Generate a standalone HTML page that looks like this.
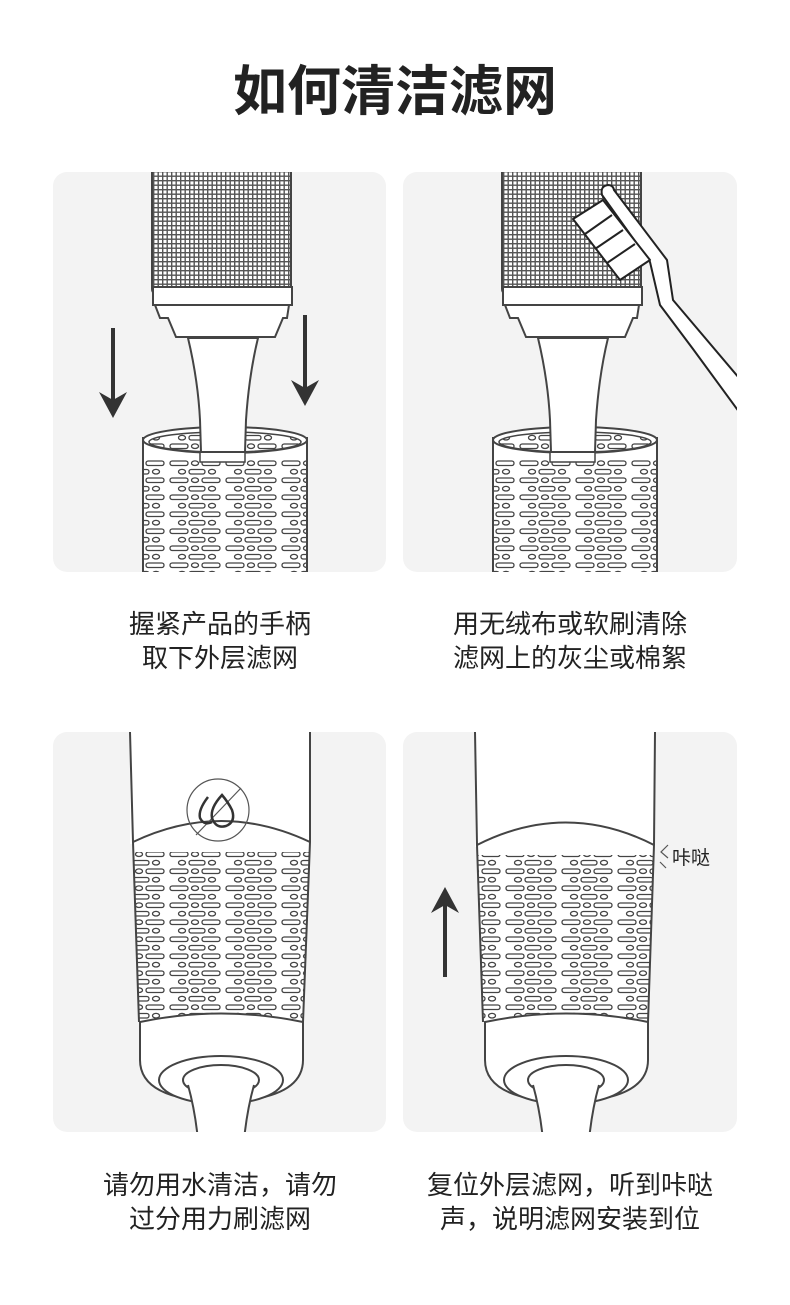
<!DOCTYPE html>
<html><head><meta charset="utf-8"><style>
body{margin:0;background:#fff;}
.t{font-family:"Liberation Sans","Noto Sans CJK SC",sans-serif;}
</style></head><body>
<svg width="790" height="1300" viewBox="0 0 790 1300" xmlns="http://www.w3.org/2000/svg">
<defs>
<pattern id="mesh" width="4.5" height="4.5" patternUnits="userSpaceOnUse">
<rect width="4.5" height="4.5" fill="#fff"/><rect x="0" y="0" width="4.5" height="1.4" fill="#555"/><rect x="0" y="0" width="1.4" height="4.5" fill="#555"/>
</pattern>
<pattern id="slots" width="56" height="17" patternUnits="userSpaceOnUse">
<rect width="56" height="17" fill="#fff"/>
<rect x="2" y="2" width="18" height="4.5" rx="2.2" fill="none" stroke="#444" stroke-width="1.3"/>
<ellipse cx="27" cy="4.2" rx="3.5" ry="2.3" fill="none" stroke="#444" stroke-width="1.3"/>
<rect x="34" y="2" width="18" height="4.5" rx="2.2" fill="none" stroke="#444" stroke-width="1.3"/>
<ellipse cx="14" cy="12.7" rx="3.5" ry="2.3" fill="none" stroke="#444" stroke-width="1.3"/>
<rect x="21" y="10.5" width="16" height="4.5" rx="2.2" fill="none" stroke="#444" stroke-width="1.3"/>
<ellipse cx="44" cy="12.7" rx="3.5" ry="2.3" fill="none" stroke="#444" stroke-width="1.3"/>
</pattern>
<clipPath id="c1"><rect x="53" y="172" width="333" height="400" rx="14"/></clipPath>
<clipPath id="c2"><rect x="403" y="172" width="334" height="400" rx="14"/></clipPath>
<clipPath id="c3"><rect x="53" y="732" width="333" height="400" rx="14"/></clipPath>
<clipPath id="c4"><rect x="403" y="732" width="334" height="400" rx="14"/></clipPath>
<g id="top">
<rect x="152" y="150" width="139" height="145" rx="6" fill="url(#mesh)" stroke="#444" stroke-width="2"/>
<path d="M153 287 L292 287 L292 305 L153 305 Z" fill="#fff" stroke="#444" stroke-width="2"/>
<path d="M155 305 L289 305 L287 318 L283 318 L275 337 L176 337 L168 318 L160 318 Z" fill="#fff" stroke="#444" stroke-width="2"/>
<path d="M188 338 Q198 380 200 420 L201 452 L245 452 L246 420 Q249 375 258 338 Z" fill="#fff" stroke="#444" stroke-width="2"/>
</g>
<g id="bot">
<rect x="143" y="437" width="164" height="150" fill="url(#slots)"/>
<rect x="143" y="437" width="164" height="22" fill="#fff"/>
<path d="M143 437 L143 587 M307 437 L307 587" stroke="#444" stroke-width="2"/>
<ellipse cx="225" cy="440" rx="82" ry="13" fill="#fff" stroke="#444" stroke-width="2"/>
<ellipse cx="225" cy="442" rx="76" ry="10" fill="url(#slots)" stroke="#444" stroke-width="1.5"/>
<path d="M200 452 L245 452 L245 462 L200 462 Z" fill="#fff" stroke="#444" stroke-width="1.5"/>
</g>
</defs>
<rect width="790" height="1300" fill="#fff"/>
<text x="395" y="110" text-anchor="middle" class="t" font-size="54" font-weight="bold" fill="#222">如何清洁滤网</text>

<!-- panel 1 -->
<rect x="53" y="172" width="333" height="400" rx="14" fill="#f3f3f3"/>
<g clip-path="url(#c1)">
<use href="#bot"/><use href="#top"/>
<path d="M113 328 L113 400" stroke="#333" stroke-width="4"/><path d="M99 392 L113 418 L127 392 L113 400 Z" fill="#333"/>
<path d="M305 315 L305 388" stroke="#333" stroke-width="4"/><path d="M291 380 L305 406 L319 380 L305 388 Z" fill="#333"/>
</g>

<!-- panel 2 -->
<rect x="403" y="172" width="334" height="400" rx="14" fill="#f3f3f3"/>
<g clip-path="url(#c2)">
<g transform="translate(350,0)"><use href="#bot"/><use href="#top"/></g>
<path d="M602 195 Q600 186 608 185 Q613 185 614 190 L667 260 L673 300 L745 385 L745 420 L693 349 L660 305 L650 262 Z" fill="#fff" stroke="#222" stroke-width="2" stroke-linejoin="round"/>
<path d="M573 219 L603 200 L650 260 L620 280 Z" fill="#fff" stroke="#222" stroke-width="2" stroke-linejoin="round"/>
<path d="M585 234 L612 215 M595 249 L623 230 M607 263 L635 244" stroke="#222" stroke-width="2"/>
</g>

<!-- panel 3 -->
<rect x="53" y="732" width="333" height="400" rx="14" fill="#f3f3f3"/>
<g clip-path="url(#c3)">
<rect x="130" y="732" width="180" height="112" fill="#fff"/>
<path d="M133 842 L139 1022 L303 1022 L310 842 Z" fill="url(#slots)"/>
<path d="M133 842 Q221 800 310 842 L310 852 L133 852 Z" fill="#fff"/>
<path d="M130 732 L133 842 L139 1022 M310 732 L310 842 L303 1022" fill="none" stroke="#444" stroke-width="2"/>
<path d="M133 842 Q221 800 310 842" fill="none" stroke="#444" stroke-width="2"/>
<path d="M140 1022 Q221 1005 303 1022 L303 1060 Q303 1100 221 1102 Q140 1100 140 1060 Z" fill="#fff" stroke="#444" stroke-width="2"/>
<ellipse cx="221" cy="1080" rx="62" ry="24" fill="#fff" stroke="#444" stroke-width="2"/>
<ellipse cx="221" cy="1080" rx="38" ry="15" fill="#fff" stroke="#444" stroke-width="2"/>
<path d="M188 1085 Q195 1110 198 1140 L244 1140 Q247 1110 254 1085" fill="#fff" stroke="#444" stroke-width="2"/>
<circle cx="218" cy="810" r="31" fill="none" stroke="#555" stroke-width="1.2"/>
<line x1="196" y1="835" x2="241" y2="788" stroke="#555" stroke-width="1.2"/>
<path d="M208 797 Q198 810 200 818 Q204 826 212 822" fill="none" stroke="#333" stroke-width="2.5"/>
<path d="M222 795 Q210 808 212 818 Q216 829 226 826 Q236 822 232 810 Q228 802 222 795 Z" fill="none" stroke="#333" stroke-width="2.5"/>
</g>

<!-- panel 4 -->
<rect x="403" y="732" width="334" height="400" rx="14" fill="#f3f3f3"/>
<g clip-path="url(#c4)">
<rect x="475" y="732" width="180" height="115" fill="#fff"/>
<path d="M477 845 L483 1022 L648 1022 L654 845 Z" fill="url(#slots)"/>
<path d="M477 845 Q566 800 654 845 L654 855 L477 855 Z" fill="#fff"/>
<path d="M475 732 L477 845 L483 1022 M655 732 L654 845 L648 1022" fill="none" stroke="#444" stroke-width="2"/>
<path d="M477 845 Q566 800 654 845" fill="none" stroke="#444" stroke-width="2"/>
<path d="M485 1022 Q566 1005 648 1022 L648 1060 Q648 1100 566 1102 Q485 1100 485 1060 Z" fill="#fff" stroke="#444" stroke-width="2"/>
<ellipse cx="566" cy="1080" rx="62" ry="24" fill="#fff" stroke="#444" stroke-width="2"/>
<ellipse cx="566" cy="1080" rx="38" ry="15" fill="#fff" stroke="#444" stroke-width="2"/>
<path d="M533 1085 Q540 1110 543 1140 L589 1140 Q592 1110 599 1085" fill="#fff" stroke="#444" stroke-width="2"/>
<path d="M445 977 L445 905" stroke="#333" stroke-width="4"/><path d="M431 913 L445 887 L459 913 L445 905 Z" fill="#333"/>
<path d="M668 845 L661 852 L668 858 M660 862 L666 868" fill="none" stroke="#555" stroke-width="1.2"/>
<text x="672" y="864" class="t" font-size="19" fill="#222">咔哒</text>
</g>

<g class="t" font-size="26" fill="#222" text-anchor="middle">
<text x="220" y="633">握紧产品的手柄</text>
<text x="220" y="667">取下外层滤网</text>
<text x="570" y="633">用无绒布或软刷清除</text>
<text x="570" y="667">滤网上的灰尘或棉絮</text>
<text x="220" y="1194">请勿用水清洁，请勿</text>
<text x="220" y="1228">过分用力刷滤网</text>
<text x="570" y="1194">复位外层滤网，听到咔哒</text>
<text x="570" y="1228">声，说明滤网安装到位</text>
</g>
</svg>
</body></html>
